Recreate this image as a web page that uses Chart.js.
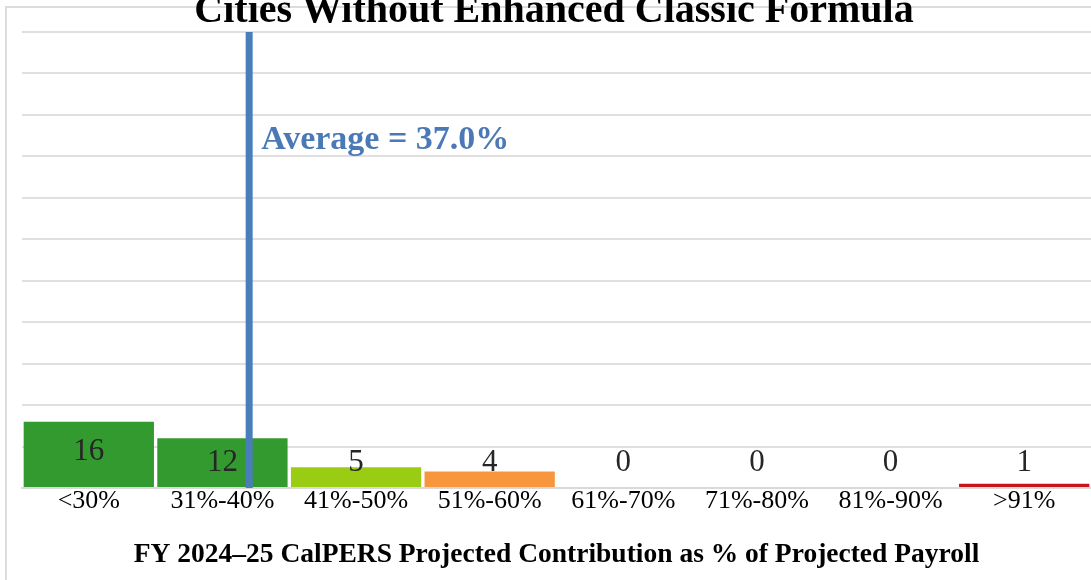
<!DOCTYPE html>
<html>
<head>
<meta charset="utf-8">
<script src="https://cdn.jsdelivr.net/npm/chart.js@4.4.1/dist/chart.umd.min.js"></script>
<style>
  body { margin: 0; background: #fff; }
  #wrap { width: 1091px; height: 580px; }
</style>
</head>
<body>
<div id="wrap"><canvas id="histo" width="1091" height="580"></canvas></div>
<script>
// données
const categories = ['<30%', '31%-40%', '41%-50%', '51%-60%', '61%-70%', '71%-80%', '81%-90%', '>91%'];
const counts = [16, 12, 5, 4, 0, 0, 0, 1];
const barColors = ['#339a30', '#339a30', '#9acc14', '#f7963c', '#f7963c', '#f7963c', '#f7963c', '#c8151b'];
const averageValue = 37.0;
const averageLabel = 'Average = 37.0%';
const rangeStart = 20, rangeEnd = 100; // <30% commence à 20, >91% finit à 100
const yMax = 110, yStep = 10;
const titre = 'Cities Without Enhanced Classic Formula';
const titreAxe = 'FY 2024\u201325 CalPERS Projected Contribution as % of Projected Payroll';

const serif = '"Liberation Serif", "Times New Roman", serif';

// cadre gris + titre coupé en haut
const cadrePlugin = {
    id: 'cadre',
    beforeDraw(chart) {
        const c = chart.ctx;
        c.save();
        c.fillStyle = '#fff';
        c.fillRect(0, 0, chart.width, chart.height);
        c.strokeStyle = '#dcdcdc';
        c.lineWidth = 2;
        c.strokeRect(6, 7, chart.width + 10, chart.height + 10);
        c.restore();
    },
    afterDraw(chart) {
        const c = chart.ctx;
        c.save();
        c.fillStyle = '#000';
        c.font = 'bold 40px ' + serif;
        c.textAlign = 'center';
        c.textBaseline = 'alphabetic';
        c.fillText(titre, 554, 22);
        c.restore();
    }
};

// étiquettes des barres + texte de la moyenne
const etiquettesPlugin = {
    id: 'etiquettes',
    afterDatasetsDraw(chart) {
        const c = chart.ctx;
        const y = chart.scales.y;
        const meta = chart.getDatasetMeta(0);
        c.save();
        c.font = '31px ' + serif;
        c.fillStyle = '#262626';
        c.textAlign = 'center';
        c.textBaseline = 'middle';
        const base = y.getPixelForValue(0);
        meta.data.forEach((bar, i) => {
            const ly = Math.min(bar.y + 30, base - 25);
            c.fillText(String(counts[i]), bar.x, ly);
        });
        const xa = chart.scales.xAvg;
        c.font = 'bold 34px ' + serif;
        c.fillStyle = '#4a79b6';
        c.textAlign = 'left';
        c.fillText(averageLabel, xa.getPixelForValue(averageValue) + 12, y.getPixelForValue(84));
        c.restore();
    }
};

new Chart(document.getElementById('histo'), {
    data: {
        labels: categories,
        datasets: [
            {
                type: 'bar',
                data: counts,
                backgroundColor: barColors,
                categoryPercentage: 1,
                barPercentage: 0.975,
                grouped: false,
                xAxisID: 'x',
                order: 1
            },
            {
                type: 'line',
                data: [{ x: averageValue, y: 0 }, { x: averageValue, y: yMax }],
                borderColor: '#4a7ebb',
                borderWidth: 7,
                pointRadius: 0,
                xAxisID: 'xAvg',
                order: 0
            }
        ]
    },
    options: {
        responsive: false,
        animation: false,
        layout: { padding: { left: 22, right: 0, top: 32, bottom: 0 } },
        plugins: {
            legend: { display: false },
            tooltip: { enabled: false }
        },
        scales: {
            x: {
                type: 'category',
                grid: { display: false, drawTicks: false },
                border: { display: true, color: '#d9d9d9', width: 2 },
                ticks: { color: '#000', font: { family: serif, size: 26 }, padding: -2, maxRotation: 0 },
                title: {
                    display: true,
                    text: titreAxe,
                    color: '#000',
                    font: { family: serif, size: 27.5, weight: 'bold' },
                    padding: { top: 0, bottom: 9 }
                },
                afterFit(scale) { scale.height = 92; }
            },
            xAvg: {
                type: 'linear',
                position: 'bottom',
                display: false,
                min: rangeStart,
                max: rangeEnd
            },
            y: {
                min: 0,
                max: yMax,
                ticks: { display: false, stepSize: yStep },
                grid: { color: '#e0e0e0', lineWidth: 2, drawTicks: false },
                border: { display: false },
                afterFit(scale) { scale.width = 0; }
            }
        }
    },
    plugins: [cadrePlugin, etiquettesPlugin]
});
</script>
</body>
</html>
